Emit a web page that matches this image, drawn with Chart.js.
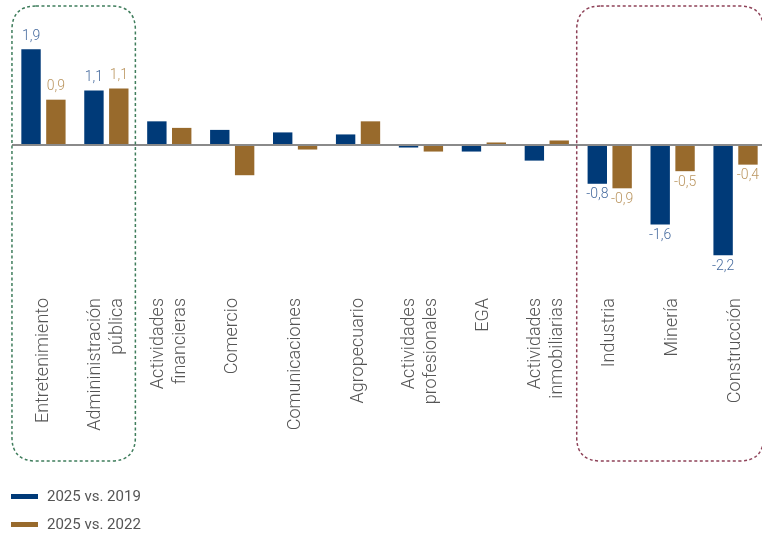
<!DOCTYPE html>
<html>
<head>
<meta charset="utf-8">
<script src="https://cdn.jsdelivr.net/npm/chart.js@4.4.1/dist/chart.umd.min.js"></script>
<style>
  html, body { margin: 0; padding: 0; background: #fff; overflow: hidden; }
  #wrap { position: relative; width: 768px; height: 533px; }
  #legend { position: absolute; left: 11px; top: 482px; font-family: Roboto, sans-serif; font-size: 15px; color: #555; }
  .item { display: flex; align-items: center; height: 28px; }
  .swatch { width: 27px; height: 5px; margin-right: 9px; }
</style>
</head>
<body>
<div id="wrap">
  <canvas id="myChart" width="768" height="533"></canvas>
  <div id="legend"></div>
</div>
<script>
// Sectors (the odd spelling is as in the source)
const sectors = [
  "Entretenimiento",
  ["Admininistración", "pública"],
  ["Actividades", "financieras"],
  "Comercio",
  "Comunicaciones",
  "Agropecuario",
  ["Actividades", "profesionales"],
  "EGA",
  ["Actividades", "inmobiliarias"],
  "Industria",
  "Minería",
  "Construcción"
];

// Growth, percentage points
const vs2019 = [1.9, 1.08, 0.47, 0.30, 0.25, 0.21, -0.05, -0.13, -0.31, -0.77, -1.58, -2.19];
const vs2022 = [0.9, 1.12, 0.34, -0.60, -0.09, 0.47, -0.13, 0.05, 0.09, -0.86, -0.52, -0.39];

const seriesNames = ["2025 vs. 2019", "2025 vs. 2022"];
const barColors = ["#003a78", "#986a2c"];
const labelColors = ["#456a9e", "#bb9660"];

// only these sectors get value labels
const labelled = [0, 1, 9, 10, 11];

// dashed rounded boxes around groups
const boxes = [
  { from: 0, to: 1, left: 31.5, right: 29, color: "#3f7d5c" },
  { from: 9, to: 11, left: 33, right: 28, color: "#8e4258" }
];

function roundRect(ctx, x, y, w, h, r) {
  ctx.beginPath();
  ctx.moveTo(x + r, y);
  ctx.lineTo(x + w - r, y);
  ctx.quadraticCurveTo(x + w, y, x + w, y + r);
  ctx.lineTo(x + w, y + h - r);
  ctx.quadraticCurveTo(x + w, y + h, x + w - r, y + h);
  ctx.lineTo(x + r, y + h);
  ctx.quadraticCurveTo(x, y + h, x, y + h - r);
  ctx.lineTo(x, y + r);
  ctx.quadraticCurveTo(x, y, x + r, y);
  ctx.closePath();
}

const groupBoxes = {
  id: "groupBoxes",
  afterDraw(chart) {
    const ctx = chart.ctx;
    const xs = chart.scales.x;
    ctx.save();
    ctx.lineWidth = 1.5;
    ctx.setLineDash([3, 2.5]);
    boxes.forEach((b) => {
      const x1 = xs.getPixelForValue(b.from) - b.left;
      const x2 = xs.getPixelForValue(b.to) + b.right;
      ctx.strokeStyle = b.color;
      roundRect(ctx, x1, 6, x2 - x1, 455, 24);
      ctx.stroke();
    });
    ctx.restore();
  }
};

// sector names, rotated, lines centred on the tick
const sectorLabels = {
  id: "sectorLabels",
  afterDraw(chart) {
    const ctx = chart.ctx;
    const xs = chart.scales.x;
    const lineH = 22;
    ctx.save();
    ctx.font = "300 18px Roboto";
    ctx.fillStyle = "#555";
    ctx.textAlign = "right";
    ctx.textBaseline = "middle";
    sectors.forEach((s, i) => {
      const lines = Array.isArray(s) ? s : [s];
      const cx = xs.getPixelForValue(i);
      lines.forEach((line, j) => {
        const x = cx + (j - (lines.length - 1) / 2) * lineH;
        ctx.save();
        ctx.translate(x, 298);
        ctx.rotate(-Math.PI / 2);
        ctx.fillText(line, 0, 0);
        ctx.restore();
      });
    });
    ctx.restore();
  }
};

const valueLabels = {
  id: "valueLabels",
  afterDatasetsDraw(chart) {
    const ctx = chart.ctx;
    ctx.save();
    ctx.font = "300 14px Roboto";
    ctx.textAlign = "center";
    chart.data.datasets.forEach((ds, di) => {
      const meta = chart.getDatasetMeta(di);
      ctx.fillStyle = labelColors[di];
      labelled.forEach((i) => {
        const bar = meta.data[i];
        const v = ds.data[i];
        const txt = v.toFixed(1).replace(".", ",");
        if (v >= 0) {
          ctx.textBaseline = "bottom";
          ctx.fillText(txt, bar.x, bar.y - 6);
        } else {
          ctx.textBaseline = "top";
          ctx.fillText(txt, bar.x, bar.y + 4);
        }
      });
    });
    ctx.restore();
  }
};

const ctx = document.getElementById("myChart").getContext("2d");
const chart = new Chart(ctx, {
  type: "bar",
  data: {
    labels: sectors,
    datasets: [
      { label: seriesNames[0], data: vs2019, backgroundColor: barColors[0] },
      { label: seriesNames[1], data: vs2022, backgroundColor: barColors[1] }
    ]
  },
  options: {
    responsive: false,
    animation: false,
    layout: { padding: { top: 3, left: 12, right: 1, bottom: 0 } },
    categoryPercentage: 0.79,
    barPercentage: 0.78,
    plugins: {
      legend: { display: false },
      tooltip: { enabled: false }
    },
    scales: {
      x: {
        grid: { display: false, drawTicks: false },
        border: { display: false },
        ticks: { display: false },
        afterFit(scale) { scale.height = 247; }
      },
      y: {
        min: -2.8,
        max: 2.82,
        ticks: { display: false },
        border: { display: false },
        grid: {
          drawTicks: false,
          lineWidth: 2,
          color: (c) => (c.tick && c.tick.value === 0 ? "#8a8a8a" : "rgba(0,0,0,0)")
        },
        afterBuildTicks(scale) { scale.ticks = [{ value: 0 }]; },
        afterFit(scale) { scale.width = 0; }
      }
    }
  },
  plugins: [groupBoxes, sectorLabels, valueLabels]
});

// legend, one series per row
const legendBox = document.getElementById("legend");
chart.data.datasets.forEach((ds) => {
  const row = document.createElement("div");
  row.className = "item";
  row.innerHTML = `<span class="swatch" style="background:${ds.backgroundColor}"></span><span>${ds.label}</span>`;
  legendBox.appendChild(row);
});
</script>
</body>
</html>
